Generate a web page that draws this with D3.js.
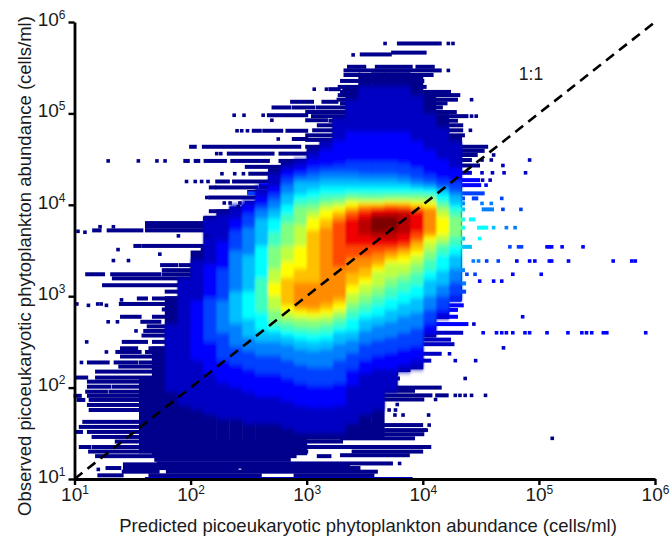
<!DOCTYPE html>
<html>
<head>
<meta charset="utf-8">
<script src="https://cdn.jsdelivr.net/npm/d3@7"></script>
<style>
  html, body { margin: 0; padding: 0; background: #fff; }
  text { font-family: "Liberation Sans", Arial, sans-serif; fill: #1a1a1a; }
</style>
</head>
<body>
<div id="chart"></div>
<script>
// all abundances below are log10(cells/ml)
const tickPowers = [1, 2, 3, 4, 5, 6];
const oneToOne = [10, 1000000];
const xTitle = "Predicted picoeukaryotic phytoplankton abundance (cells/ml)";
const yTitle = "Observed picoeukaryotic phytoplankton abundance (cells/ml)";

// predicted values come in stripes, nine per decade
const stripesPerDecade = 9;
const firstStripe = 5;
// densest to lightest colour of the plot
const levelColors = ["#00008c", "#0000c4", "#0000ff", "#0040ff", "#0080ff", "#00c0ff", "#00ffff",
  "#40ffbf", "#80ff80", "#bfff40", "#ffff00", "#ffc000", "#ff8c00", "#ff4800", "#f00000", "#b80000", "#7c0000"];

// solid navy part of each stripe, from stripe 5 on
const solidTop = [2.1, 2.45, 3.0, 3.2, 3.5, 3.88, 3.95, 3.98, 4.0, 4.05, 4.4, 4.5, 4.5, 4.62, 4.7, 4.95, 5.25, 5.42, 5.45, 5.45, 5.45, 5.4, 5.2, 4.99, 4.75];
const solidBottom = [1.28, 1.26, 1.26, 1.26, 1.26, 1.26, 1.26, 1.26, 1.26, 1.26, 1.26, 1.26, 1.26, 1.43, 1.43, 1.43, 1.43, 1.43, 1.43, 1.95, 2.17, 2.2, 2.55, 2.75, 2.95];

// for each stripe, where every colour level starts (top) and ends (bottom), level 1 first
const levelTop = [
  [],
  [],
  [2.7],
  [3.2],
  [3.4, 2.95],
  [3.85, 3.35, 2.98],
  [3.9, 3.6, 3.3, 2.95],
  [4.0, 3.85, 3.72, 3.5, 3.05],
  [4.05, 4.0, 3.9, 3.75, 3.45, 3.05],
  [4.2, 4.1, 4.0, 3.95, 3.85, 3.55, 3.2],
  [4.35, 4.2, 4.12, 4.05, 3.95, 3.85, 3.7, 3.55, 3.3, 3.15],
  [4.45, 4.38, 4.3, 4.22, 4.12, 4.0, 3.9, 3.8, 3.55, 3.38, 3.2],
  [4.5, 4.42, 4.35, 4.3, 4.25, 4.12, 4.05, 3.98, 3.78, 3.55, 3.3, 3.15],
  [4.6, 4.5, 4.4, 4.33, 4.25, 4.16, 4.08, 4.0, 3.93, 3.86, 3.72, 3.15],
  [4.7, 4.6, 4.42, 4.36, 4.28, 4.2, 4.12, 4.05, 4.0, 3.95, 3.85, 3.75],
  [4.95, 4.7, 4.44, 4.36, 4.28, 4.2, 4.12, 4.07, 4.02, 3.98, 3.93, 3.88, 3.82],
  [5.15, 4.8, 4.47, 4.36, 4.28, 4.2, 4.14, 4.1, 4.06, 4.03, 3.98, 3.95, 3.92, 3.85],
  [5.3, 4.8, 4.47, 4.34, 4.27, 4.2, 4.14, 4.09, 4.05, 4.03, 4.01, 3.99, 3.96, 3.92, 3.85],
  [5.3, 4.8, 4.47, 4.34, 4.27, 4.2, 4.14, 4.09, 4.05, 4.03, 4.01, 3.99, 3.97, 3.96, 3.9, 3.87],
  [5.3, 4.8, 4.47, 4.34, 4.27, 4.2, 4.14, 4.1, 4.06, 4.04, 4.02, 4.0, 3.99, 3.96, 3.91, 3.87],
  [5.3, 4.8, 4.45, 4.32, 4.25, 4.2, 4.14, 4.1, 4.06, 4.04, 4.02, 4.0, 3.98, 3.95, 3.92],
  [5.2, 4.7, 4.4, 4.28, 4.22, 4.18, 4.14, 4.1, 4.06, 4.03, 4.0, 3.98, 3.95, 3.93],
  [5.0, 4.6, 4.33, 4.25, 4.2, 4.17, 4.13, 4.1, 4.05, 4.03, 3.98, 3.96],
  [4.85, 4.5, 4.28, 4.2, 4.17, 4.12, 4.05, 4.0, 3.95, 3.87],
  [4.7, 4.4, 4.25, 4.15, 4.1, 4.0, 3.95, 3.87]
];
const levelBottom = [
  [],
  [],
  [1.95],
  [1.8],
  [1.75, 2.3],
  [1.7, 2.15, 2.5],
  [1.65, 2.05, 2.3, 2.6],
  [1.65, 2.0, 2.25, 2.45, 2.7],
  [1.6, 1.95, 2.2, 2.4, 2.55, 2.75],
  [1.6, 1.9, 2.15, 2.35, 2.5, 2.62, 2.82],
  [1.6, 1.9, 2.15, 2.35, 2.5, 2.6, 2.66, 2.72, 2.85, 3.0],
  [1.55, 1.85, 2.1, 2.3, 2.47, 2.56, 2.62, 2.7, 2.76, 2.83, 2.9],
  [1.5, 1.8, 2.05, 2.25, 2.42, 2.52, 2.6, 2.66, 2.74, 2.79, 2.84, 2.88],
  [1.5, 1.78, 2.02, 2.22, 2.4, 2.5, 2.58, 2.65, 2.73, 2.78, 2.82, 2.87],
  [1.5, 1.78, 2.02, 2.22, 2.42, 2.52, 2.6, 2.68, 2.74, 2.8, 2.85, 2.92],
  [1.5, 1.8, 2.05, 2.3, 2.48, 2.6, 2.66, 2.74, 2.8, 2.85, 2.92, 2.98, 3.32],
  [1.6, 2.02, 2.2, 2.38, 2.52, 2.62, 2.76, 2.85, 2.93, 3.03, 3.12, 3.25, 3.42, 3.55],
  [1.7, 2.15, 2.3, 2.48, 2.62, 2.75, 2.83, 2.92, 3.02, 3.13, 3.2, 3.31, 3.43, 3.55, 3.67],
  [1.75, 2.2, 2.35, 2.52, 2.68, 2.78, 2.9, 3.0, 3.1, 3.27, 3.32, 3.38, 3.47, 3.55, 3.63, 3.7],
  [1.95, 2.2, 2.38, 2.55, 2.72, 2.85, 2.98, 3.1, 3.2, 3.36, 3.4, 3.45, 3.5, 3.55, 3.62, 3.72],
  [2.17, 2.25, 2.42, 2.6, 2.78, 2.92, 3.05, 3.17, 3.25, 3.36, 3.44, 3.5, 3.53, 3.58, 3.68],
  [2.2, 2.3, 2.45, 2.65, 2.82, 2.98, 3.12, 3.25, 3.35, 3.44, 3.5, 3.58, 3.62, 3.7],
  [2.55, 2.6, 2.7, 2.85, 3.0, 3.18, 3.28, 3.4, 3.5, 3.6, 3.65, 3.68],
  [2.75, 2.8, 2.85, 3.0, 3.12, 3.28, 3.45, 3.55, 3.6, 3.67],
  [2.95, 2.97, 3.0, 3.15, 3.3, 3.45, 3.55, 3.65]
];

// horizontal runs of points: observed, predicted from, predicted to, colour level
const streaks = [
  [5.765, 3.79, 4.15, 0], [5.665, 3.74, 4.02, 0], [5.645, 3.47, 3.72, 0],
  [5.51, 3.36, 3.5, 0], [5.51, 3.6, 3.9, 0], [5.51, 3.95, 4.09, 0],
  [5.47, 3.33, 3.45, 0], [5.47, 3.46, 4.15, 0], [5.42, 3.33, 4.08, 0], [5.355, 3.3, 4.0, 0],
  [5.29, 3.28, 4.02, 0], [5.265, 3.2, 3.28, 0], [5.265, 3.32, 3.46, 0], [5.235, 3.3, 4.23, 0],
  [5.2, 3.28, 4.31, 0], [5.15, 3.27, 4.29, 0], [5.127, 2.87, 3.05, 0], [5.127, 3.14, 3.26, 0],
  [5.11, 3.3, 4.2, 0], [5.065, 2.71, 2.855, 0], [5.065, 2.885, 3.06, 0], [5.065, 3.09, 4.16, 0],
  [5.015, 3.0, 4.28, 0], [4.98, 2.67, 3.0, 0], [4.97, 3.05, 4.38, 0], [4.925, 3.0, 3.17, 0],
  [4.92, 3.2, 4.29, 0], [4.87, 3.1, 4.335, 0], [4.81, 2.54, 2.6, 0], [4.81, 2.63, 2.785, 0],
  [4.81, 2.83, 3.0, 0], [4.815, 3.06, 4.335, 0], [4.76, 3.0, 4.35, 0], [4.72, 2.885, 3.0, 0],
  [4.71, 3.0, 4.32, 0], [4.635, 2.0, 2.04, 0], [4.635, 2.11, 2.94, 0], [4.635, 3.0, 3.17, 0],
  [4.635, 3.2, 4.55, 0], [4.59, 3.1, 4.52, 0], [4.56, 2.325, 2.71, 0], [4.56, 2.77, 3.085, 0],
  [4.545, 3.08, 4.46, 0], [4.48, 1.95, 1.98, 0], [4.48, 2.04, 2.07, 0], [4.48, 2.125, 2.3, 0],
  [4.48, 2.355, 2.67, 0], [4.48, 2.77, 3.115, 0], [4.49, 3.1, 4.41, 0], [4.43, 3.0, 4.48, 0],
  [4.415, 2.48, 2.87, 0], [4.34, 2.51, 2.86, 0], [4.35, 2.9, 4.41, 1], [4.27, 2.9, 4.48, 2],
  [4.255, 2.225, 2.325, 0], [4.255, 2.37, 2.885, 0], [4.215, 2.6, 4.49, 2], [4.19, 2.17, 2.21, 0],
  [4.19, 2.225, 2.57, 0], [4.19, 2.6, 2.9, 0], [4.14, 2.5, 2.74, 0], [4.125, 2.5, 4.52, 3],
  [4.08, 2.165, 2.71, 0], [4.07, 2.7, 4.35, 3], [4.07, 4.435, 4.465, 3], [4.02, 2.48, 2.71, 0],
  [4.015, 3.0, 4.35, 4], [3.95, 3.0, 4.35, 5], [3.95, 4.52, 4.6, 4], [3.93, 2.17, 2.71, 0],
  [3.85, 2.12, 2.17, 0], [3.85, 2.225, 2.71, 0], [3.84, 3.0, 4.35, 6], [3.84, 4.41, 4.44, 6],
  [3.8, 1.62, 1.8, 0], [3.8, 1.82, 2.71, 0], [3.76, 1.62, 2.6, 0], [3.75, 3.0, 4.35, 6],
  [3.75, 4.48, 4.55, 6], [3.72, 1.165, 1.22, 0], [3.72, 1.29, 1.58, 0], [3.72, 1.62, 2.6, 0],
  [3.63, 3.0, 4.35, 5], [3.55, 1.52, 1.565, 0], [3.55, 1.59, 2.14, 0], [3.54, 3.0, 4.41, 5],
  [3.505, 2.1, 2.6, 0], [3.34, 1.75, 1.88, 0], [3.34, 1.91, 2.14, 0], [3.285, 1.765, 2.14, 0],
  [3.285, 3.0, 4.35, 4], [3.24, 1.105, 1.25, 0], [3.24, 1.32, 1.735, 0], [3.24, 1.765, 2.08, 0],
  [3.195, 1.335, 2.08, 0], [3.14, 3.0, 4.36, 4], [3.12, 1.25, 2.08, 0], [3.05, 1.79, 2.02, 0],
  [3.05, 3.0, 4.36, 3], [2.975, 1.55, 1.62, 0], [2.975, 1.68, 2.2, 0], [2.96, 3.0, 4.32, 3],
  [2.915, 1.395, 1.535, 0], [2.915, 1.55, 2.02, 0], [2.9, 3.0, 4.34, 2], [2.855, 1.765, 2.02, 0],
  [2.85, 3.0, 4.29, 2], [2.775, 1.405, 1.565, 0], [2.775, 1.68, 1.85, 0], [2.775, 3.0, 4.29, 2],
  [2.72, 1.58, 1.735, 0], [2.695, 3.0, 4.38, 2], [2.67, 1.635, 1.82, 0], [2.62, 1.605, 1.85, 0],
  [2.6, 3.0, 4.335, 1], [2.57, 1.59, 1.88, 0], [2.525, 3.0, 4.23, 1], [2.5, 1.42, 1.62, 0],
  [2.5, 1.68, 1.9, 0], [2.475, 3.0, 4.26, 1], [2.435, 3.0, 3.9, 1], [2.43, 1.405, 1.535, 0],
  [2.43, 1.65, 1.9, 0], [2.39, 1.365, 1.565, 0], [2.39, 1.62, 1.9, 0], [2.37, 3.0, 4.15, 1],
  [2.34, 1.405, 1.735, 0], [2.295, 3.0, 4.06, 1], [2.275, 1.12, 1.29, 0], [2.275, 1.35, 1.535, 0],
  [2.275, 1.565, 1.9, 0], [2.245, 3.0, 3.96, 1], [2.23, 1.39, 1.9, 0], [2.175, 1.19, 1.9, 0],
  [2.155, 3.6, 3.775, 0], [2.11, 1.02, 1.105, 0], [2.11, 1.19, 1.9, 0], [2.1, 3.6, 3.79, 0],
  [2.065, 1.12, 1.9, 0], [2.065, 3.6, 3.745, 0], [2.01, 1.12, 1.305, 0], [2.01, 1.335, 1.9, 0],
  [2.0, 3.6, 4.15, 0], [1.965, 3.6, 3.92, 0], [1.955, 1.105, 1.275, 0], [1.955, 1.305, 1.9, 0],
  [1.915, 3.6, 4.07, 0], [1.915, 4.12, 4.21, 0], [1.91, 1.005, 1.05, 0], [1.91, 1.12, 1.9, 0],
  [1.87, 3.6, 4.0, 0], [1.865, 1.03, 1.08, 0], [1.865, 1.135, 1.9, 0], [1.815, 3.3, 3.63, 0],
  [1.81, 1.12, 1.9, 0], [1.755, 1.135, 1.565, 0], [1.755, 1.6, 1.9, 0], [1.755, 3.3, 3.645, 0],
  [1.7, 3.3, 3.59, 0], [1.645, 3.3, 3.46, 0], [1.625, 1.08, 1.9, 0], [1.59, 3.3, 3.99, 0],
  [1.57, 1.05, 1.9, 0], [1.535, 3.3, 4.02, 0], [1.515, 1.02, 1.06, 0], [1.515, 1.12, 1.9, 0],
  [1.49, 3.3, 4.0, 0], [1.46, 1.16, 1.9, 0], [1.445, 3.3, 3.92, 0], [1.41, 1.36, 2.7, 0],
  [1.41, 2.85, 3.3, 0], [1.35, 1.05, 1.13, 0], [1.35, 1.16, 3.3, 0], [1.35, 3.3, 4.06, 0],
  [1.3, 1.13, 3.0, 0], [1.3, 3.4, 3.99, 0], [1.26, 3.3, 3.875, 0], [1.25, 1.19, 2.9, 0],
  [1.25, 3.1, 3.2, 0], [1.21, 1.7, 2.85, 0], [1.17, 1.72, 3.73, 0], [1.16, 1.43, 1.7, 0], [1.135, 1.5, 3.36, 0],
  [1.12, 1.28, 1.39, 0], [1.12, 1.43, 2.4, 0], [1.12, 2.45, 3.45, 0], [1.08, 1.42, 1.72, 0],
  [1.08, 1.8, 3.6, 0], [1.04, 1.21, 1.41, 0], [1.04, 1.65, 2.6, 0], [1.04, 2.9, 3.57, 0],
  [1.0, 1.62, 3.9, 1]
];

// lone points: predicted, observed, colour level
const strays = [
  [3.4, 5.64, 0], [2.375, 4.98, 0], [2.46, 4.98, 0], [2.625, 4.98, 0], [2.7, 4.925, 0], [2.4, 4.81, 0],
  [2.44, 4.81, 0], [2.49, 4.81, 0], [2.755, 4.72, 0], [2.225, 4.56, 0], [2.26, 4.56, 0], [1.29, 4.48, 0],
  [1.55, 4.48, 0], [1.71, 4.48, 0], [1.78, 4.48, 0], [2.27, 4.34, 0], [2.38, 4.34, 0], [2.455, 4.34, 0],
  [1.965, 4.255, 0], [2.04, 4.255, 0], [2.095, 4.255, 0], [2.15, 4.255, 0], [2.14, 4.08, 0], [2.29, 4.02, 0],
  [2.34, 4.02, 0], [2.425, 4.02, 0], [2.41, 3.98, 0], [1.03, 3.71, 0], [1.09, 3.7, 0], [1.22, 3.76, 0],
  [1.335, 3.76, 0], [1.895, 3.66, 0], [2.14, 3.66, 0], [1.375, 3.51, 0], [3.065, 5.265, 0], [3.17, 5.265, 0],
  [1.335, 3.39, 0], [1.465, 3.39, 0], [1.735, 3.46, 0], [1.02, 2.915, 0], [1.12, 2.9, 0], [1.2, 2.915, 0],
  [1.23, 2.915, 0], [1.275, 2.9, 0], [1.405, 2.96, 0], [1.29, 2.72, 0], [1.37, 2.72, 0], [1.53, 2.62, 0],
  [1.105, 2.5, 0], [1.275, 2.39, 0], [1.06, 2.275, 0], [1.205, 1.105, 0],
  [3.675, 5.765, 0], [4.22, 5.765, 0], [4.26, 5.765, 0], [4.22, 5.47, 0], [4.42, 5.15, 0], [4.42, 4.97, 0],
  [4.46, 4.97, 0], [4.41, 4.815, 0], [4.61, 4.545, 0], [4.92, 4.49, 1], [4.51, 4.49, 0], [4.59, 4.49, 0],
  [4.69, 4.43, 1], [4.51, 4.35, 1], [4.6, 4.35, 1], [4.7, 4.35, 1], [4.885, 4.35, 1], [4.515, 4.27, 1],
  [4.58, 4.27, 1], [4.545, 4.215, 2], [4.68, 4.07, 3], [4.59, 4.015, 4], [4.51, 4.015, 4], [4.69, 3.95, 3],
  [4.845, 3.95, 3], [4.61, 3.75, 5], [4.72, 3.75, 4], [4.795, 3.75, 4], [4.49, 3.63, 6], [4.75, 3.54, 3],
  [4.825, 3.54, 3], [4.85, 3.54, 3], [5.07, 3.54, 2], [5.09, 3.54, 2], [5.11, 3.54, 2], [5.2, 3.54, 2], [5.38, 3.54, 2],
  [4.435, 3.385, 4], [4.48, 3.385, 4], [4.55, 3.385, 3], [4.65, 3.385, 3], [4.81, 3.385, 2], [4.92, 3.385, 2],
  [4.965, 3.385, 2], [5.09, 3.385, 2], [5.11, 3.385, 2], [5.255, 3.385, 2], [5.64, 3.385, 2], [5.8, 3.385, 2], [5.83, 3.385, 2],
  [4.38, 3.24, 3], [4.45, 3.24, 3], [4.775, 3.24, 2], [5.02, 3.24, 2], [4.49, 3.165, 2], [4.61, 3.165, 2], [4.68, 3.165, 2],
  [4.86, 2.775, 2], [4.44, 2.695, 1], [4.52, 2.6, 2], [4.635, 2.6, 2], [4.68, 2.6, 2], [4.72, 2.6, 2], [4.775, 2.6, 2],
  [4.88, 2.6, 2], [4.92, 2.6, 2], [5.07, 2.6, 2], [5.25, 2.6, 2], [5.37, 2.6, 2], [5.41, 2.6, 2], [5.455, 2.6, 2],
  [5.555, 2.6, 2], [5.585, 2.6, 2], [5.92, 2.6, 2], [4.695, 2.435, 1], [4.23, 2.37, 1], [4.28, 2.295, 1], [4.455, 2.295, 1],
  [4.365, 2.1, 0], [4.28, 1.915, 0], [4.32, 1.915, 0], [4.365, 1.915, 0], [4.42, 1.915, 0], [4.54, 1.915, 0],
  [4.11, 1.87, 0], [3.78, 1.815, 0], [3.71, 1.755, 0], [3.765, 1.755, 0], [3.76, 1.7, 0], [3.83, 1.7, 0], [4.05, 1.7, 0],
  [4.055, 1.59, 0], [4.03, 1.535, 0], [5.115, 1.445, 0], [3.8, 1.17, 0]
];

const w = 672, h = 541;

const svg = d3.select("#chart").append("svg")
  .attr("width", w)
  .attr("height", h)
  .style("display", "block");

const xScale = d3.scaleLog().domain([10, 1000000]).range([74.5, 655]);
const yScale = d3.scaleLog().domain([10, 1000000]).range([479, 22]);

const xAt = v => xScale(Math.pow(10, v));
const yAt = v => yScale(Math.pow(10, v));
const stripeLeft = k => xAt(1 + k / stripesPerDecade);
const stripeRight = k => xAt(1 + (k + 1) / stripesPerDecade);

// softens the colour steps up and down a stripe, not much across
const blur = svg.append("defs").append("filter")
  .attr("id", "soft")
  .attr("x", "-5%").attr("y", "-5%")
  .attr("width", "110%").attr("height", "110%");
blur.append("feGaussianBlur").attr("stdDeviation", "1.3 2.4");

svg.append("g").selectAll("rect")
  .data(solidTop.map((top, i) => ({ k: firstStripe + i, top: top, bottom: solidBottom[i] })))
  .join("rect")
  .attr("x", d => stripeLeft(d.k))
  .attr("width", d => stripeRight(d.k) - stripeLeft(d.k) + 0.5)
  .attr("y", d => yAt(d.top))
  .attr("height", d => yAt(d.bottom) - yAt(d.top))
  .attr("fill", levelColors[0]);

const streakHeight = 4;
svg.append("g").selectAll("rect")
  .data(streaks)
  .join("rect")
  .attr("x", d => xAt(d[1]) - 1.5)
  .attr("width", d => xAt(d[2]) - xAt(d[1]) + 3)
  .attr("y", d => yAt(d[0]) - streakHeight / 2)
  .attr("height", streakHeight)
  .attr("fill", d => levelColors[d[3]]);

const levelCells = levelTop.flatMap((tops, i) => tops.map((top, j) => ({
  k: firstStripe + i, level: j + 1, top: top, bottom: levelBottom[i][j]
}))).sort((a, b) => a.level - b.level);

svg.append("g")
  .attr("filter", "url(#soft)")
  .selectAll("rect")
  .data(levelCells)
  .join("rect")
  .attr("x", d => stripeLeft(d.k))
  .attr("width", d => stripeRight(d.k) - stripeLeft(d.k) + 0.5)
  .attr("y", d => yAt(d.top))
  .attr("height", d => yAt(d.bottom) - yAt(d.top))
  .attr("fill", d => levelColors[d.level]);

svg.append("g").selectAll("rect")
  .data(strays)
  .join("rect")
  .attr("x", d => xAt(d[0]) - 1.8)
  .attr("y", d => yAt(d[1]) - 1.8)
  .attr("width", 3.6)
  .attr("height", 3.6)
  .attr("fill", d => levelColors[d[2]]);

// 1:1 line
svg.append("path")
  .datum(oneToOne)
  .attr("fill", "none")
  .attr("stroke", "#000")
  .attr("stroke-width", 2.6)
  .attr("stroke-dasharray", "10 6.5")
  .attr("d", d3.line().x(d => xScale(d)).y(d => yScale(d)));

svg.append("text")
  .attr("x", 531)
  .attr("y", 80)
  .attr("text-anchor", "middle")
  .attr("font-size", 17.5)
  .text("1:1");

const tickValues = tickPowers.map(p => Math.pow(10, p));

function styleAxis(g) {
  g.select(".domain").attr("stroke", "#000").attr("stroke-width", 2.8);
  g.selectAll(".tick line").attr("stroke", "#000").attr("stroke-width", 2.4);
  g.selectAll(".tick text").text(null);
  g.selectAll(".tick text").each(function(d) {
    const label = d3.select(this);
    label.append("tspan").attr("font-size", 19).text("10");
    label.append("tspan").attr("font-size", 12).attr("dy", -7).text(Math.round(Math.log10(d)));
  });
}

svg.append("g")
  .attr("transform", "translate(0,479)")
  .call(d3.axisBottom(xScale).tickValues(tickValues).tickSize(6).tickSizeOuter(0).tickPadding(9))
  .call(styleAxis);

svg.append("g")
  .attr("transform", "translate(74.5,0)")
  .call(d3.axisLeft(yScale).tickValues(tickValues).tickSize(6).tickSizeOuter(0).tickPadding(3))
  .call(styleAxis);

svg.append("text")
  .attr("x", 368)
  .attr("y", 532)
  .attr("text-anchor", "middle")
  .attr("font-size", 18.5)
  .text(xTitle);

svg.append("text")
  .attr("transform", "translate(31,266) rotate(-90)")
  .attr("text-anchor", "middle")
  .attr("font-size", 18.5)
  .text(yTitle);
</script>
</body>
</html>
